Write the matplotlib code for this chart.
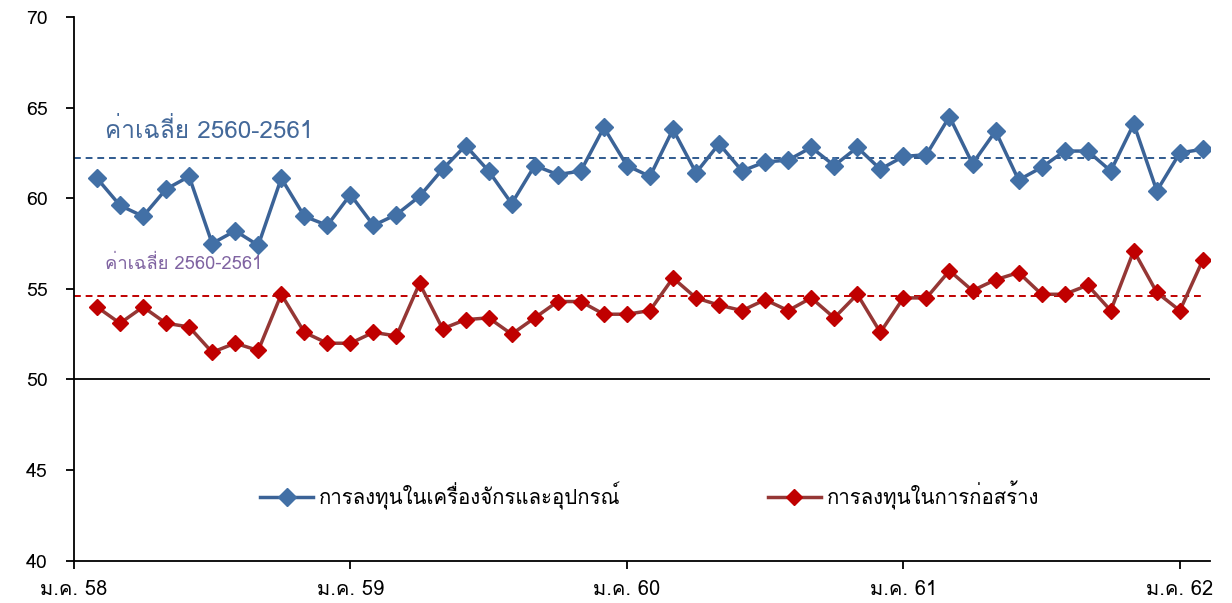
import matplotlib
matplotlib.use('Agg')
import matplotlib.pyplot as plt
from matplotlib import font_manager
from matplotlib.ft2font import FT2Font
import numpy as np


# หาฟอนต์ที่มีอักษรไทย
def find_thai_family():
    for f in font_manager.fontManager.ttflist:
        try:
            if 0x0E01 in FT2Font(f.fname).get_charmap():
                return f.name
        except Exception:
            pass
    return None


thai = find_thai_family()
families = ([thai] if thai else []) + ['DejaVu Sans']
plt.rcParams['font.family'] = families

# ข้อมูลรายเดือน ก.พ. 58 - ก.พ. 62
machinery = [61.1, 59.6, 59.0, 60.5, 61.2, 57.5, 58.2, 57.4, 61.1, 59.0, 58.5,
             60.2, 58.5, 59.1, 60.1, 61.6, 62.9, 61.5, 59.7, 61.8, 61.3, 61.5, 63.9,
             61.8, 61.2, 63.8, 61.4, 63.0, 61.5, 62.0, 62.1, 62.8, 61.8, 62.8, 61.6,
             62.3, 62.4, 64.5, 61.9, 63.7, 61.0, 61.7, 62.6, 62.6, 61.5, 64.1, 60.4,
             62.5, 62.7]
construction = [54.0, 53.1, 54.0, 53.1, 52.9, 51.5, 52.0, 51.6, 54.7, 52.6, 52.0,
                52.0, 52.6, 52.4, 55.3, 52.8, 53.3, 53.4, 52.5, 53.4, 54.3, 54.3, 53.6,
                53.6, 53.8, 55.6, 54.5, 54.1, 53.8, 54.4, 53.8, 54.5, 53.4, 54.7, 52.6,
                54.5, 54.5, 56.0, 54.9, 55.5, 55.9, 54.7, 54.7, 55.2, 53.8, 57.1, 54.8,
                53.8, 56.6]
avg_machinery = 62.2
avg_construction = 54.6
tick_labels = ['ม.ค. 58', 'ม.ค. 59', 'ม.ค. 60', 'ม.ค. 61', 'ม.ค. 62']
name_machinery = 'การลงทุนในเครื่องจักรและอุปกรณ์'
name_construction = 'การลงทุนในการก่อสร้าง'
avg_label = 'ค่าเฉลี่ย 2560-2561'

x = np.arange(1, len(machinery) + 1)

fig = plt.figure(figsize=(12.32, 6.03), dpi=100)
ax = fig.add_axes([0.060, 0.070, 0.922, 0.902])

ax.axhline(50, color='black', lw=1.3, zorder=1)
ax.hlines(avg_machinery, 0, x[-1], colors='#2F5A8E', linestyles=(0, (3.5, 2.5)), lw=1.4, zorder=2)
ax.hlines(avg_construction, 0, x[-1], colors='#C00000', linestyles=(0, (3.5, 2.5)), lw=1.4, zorder=2)

ax.plot(x, machinery, color='#3B6397', lw=2.5, marker='D', ms=9,
        mfc='#4270A6', mec='#4270A6', label=name_machinery, zorder=4)
ax.plot(x, construction, color='#953735', lw=2.5, marker='D', ms=8,
        mfc='#C00000', mec='#C00000', label=name_construction, zorder=3)

ax.text(1.35, 63.75, avg_label, color='#44699A', fontsize=17.5, va='center', ha='left')
ax.text(1.35, 56.4, avg_label, color='#8064A2', fontsize=13.2, va='center', ha='left')

ax.set_xlim(0, 49.3)
ax.set_ylim(40, 70)
ax.set_yticks(range(40, 71, 5))
ax.set_xticks(range(0, 49, 12))
ax.set_xticklabels(tick_labels)
ax.tick_params(axis='both', length=6, width=1.3, direction='out', colors='black')
ax.tick_params(axis='y', labelsize=14, pad=13)
ax.tick_params(axis='x', labelsize=14.5, pad=8)
for s in ['top', 'right']:
    ax.spines[s].set_visible(False)
for s in ['left', 'bottom']:
    ax.spines[s].set_linewidth(1.3)

ax.legend(loc='center', bbox_to_anchor=(0.507, 0.12), ncol=2, frameon=False,
          fontsize=14.7, handlelength=2.6, handletextpad=0.3, columnspacing=7.2)

fig.savefig('out.png', dpi=100)
